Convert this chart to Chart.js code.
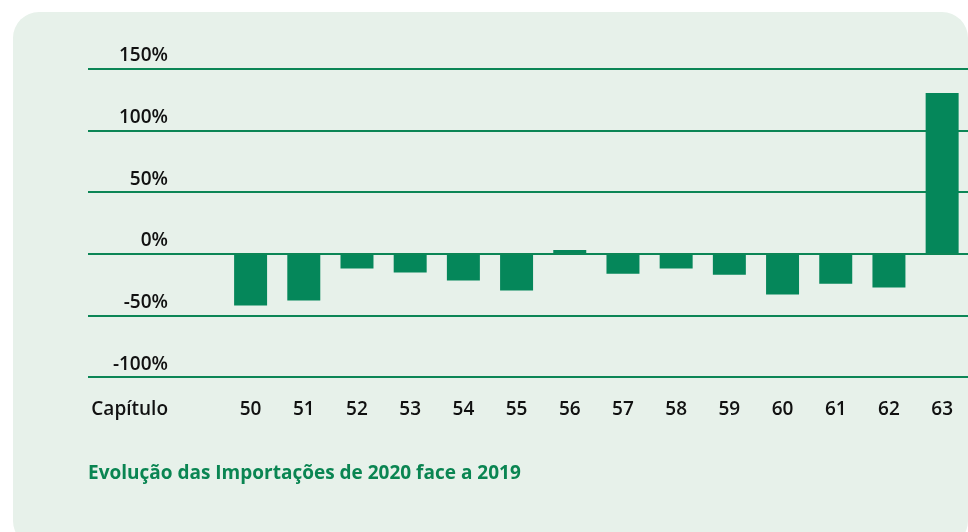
<!DOCTYPE html>
<html>
<head>
<meta charset="utf-8">
<script src="https://cdn.jsdelivr.net/npm/chart.js@4"></script>
<style>
  html, body { margin: 0; padding: 0; background: #ffffff; width: 968px; height: 532px; overflow: hidden; }
  #panel { position: absolute; left: 13px; top: 12px; width: 955px; height: 535px; background: #e7f1ea; border-radius: 26px; }
  #wrap { position: absolute; left: 0; top: 0; width: 968px; height: 532px; overflow: hidden; }
</style>
</head>
<body>
<div id="panel"></div>
<div id="wrap"><canvas id="c" width="974" height="532"></canvas></div>
<script>
const categories = ['50','51','52','53','54','55','56','57','58','59','60','61','62','63'];
const values = [-41.7, -37.6, -11.8, -15.0, -21.5, -29.6, 3.2, -15.9, -11.8, -16.7, -32.8, -24.0, -27.2, 130.6];
const yTicks = [-100, -50, 0, 50, 100, 150];
const categoryAxisLabel = 'Capítulo';
const chartTitle = 'Evolução das Importações de 2020 face a 2019';

const GREEN = '#05875a';
const LINE = '#0c8656';
const FONT = '"Open Sans", sans-serif';
const TICK_SIZE = 19;
const TICK_WEIGHT = 600;
const X_PAD = 21;

const capituloPlugin = {
  id: 'capitulo',
  afterDraw(chart) {
    const ctx = chart.ctx;
    const xs = chart.scales.x;
    ctx.save();
    ctx.font = TICK_WEIGHT + ' ' + TICK_SIZE + 'px ' + FONT;
    ctx.fillStyle = '#111111';
    ctx.textAlign = 'right';
    ctx.textBaseline = 'middle';
    ctx.fillText(categoryAxisLabel, 168, xs.top + X_PAD + TICK_SIZE * 1.2 / 2);
    ctx.restore();
  }
};

new Chart(document.getElementById('c'), {
  type: 'bar',
  data: {
    labels: categories,
    datasets: [{
      data: values,
      backgroundColor: GREEN,
      borderWidth: 0,
      barPercentage: 0.62,
      categoryPercentage: 1.0
    }]
  },
  options: {
    responsive: false,
    animation: false,
    devicePixelRatio: 1,
    layout: { padding: { left: 88, right: 0, top: 69, bottom: 0 } },
    plugins: {
      legend: { display: false },
      tooltip: { enabled: false },
      title: {
        display: true,
        text: chartTitle,
        position: 'bottom',
        align: 'start',
        color: '#0a8552',
        font: { family: FONT, size: 19, weight: 'bold' },
        padding: { top: 20, bottom: 47 }
      }
    },
    scales: {
      x: {
        grid: { display: false, drawTicks: false },
        border: { display: false },
        ticks: { color: '#111111', font: { family: FONT, size: TICK_SIZE, weight: TICK_WEIGHT }, padding: X_PAD, maxRotation: 0, autoSkip: false }
      },
      y: {
        min: -100,
        max: 150,
        afterBuildTicks(scale) { scale.ticks = yTicks.map(v => ({ value: v })); },
        afterFit(scale) { scale.width = 136; },
        grid: { color: LINE, lineWidth: 2, drawTicks: true, tickLength: 136 },
        border: { display: false },
        ticks: {
          color: '#111111',
          font: { family: FONT, size: TICK_SIZE, weight: TICK_WEIGHT },
          padding: -80,
          labelOffset: -13,
          callback: v => v + '%'
        }
      }
    }
  },
  plugins: [capituloPlugin]
});
</script>
</body>
</html>
